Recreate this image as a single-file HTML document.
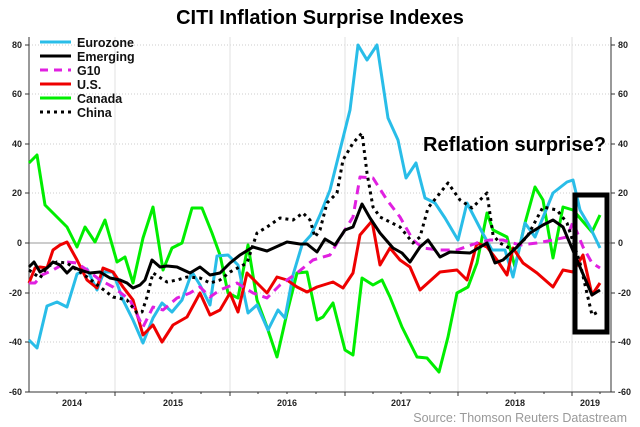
<!DOCTYPE html>
<html><head><meta charset="utf-8"><style>
html,body{margin:0;padding:0;background:#fff;}
svg{display:block;font-family:"Liberation Sans",Arial,sans-serif;}
</style></head><body>
<svg width="640" height="427" viewBox="0 0 640 427" xmlns="http://www.w3.org/2000/svg">
<rect width="640" height="427" fill="#fff"/>
<text x="320" y="24" font-size="20" font-weight="bold" text-anchor="middle">CITI Inflation Surprise Indexes</text>
<g stroke="#ccc" stroke-width="1" stroke-dasharray="1,2">
<line x1="29" y1="45" x2="611" y2="45"/><line x1="29" y1="94" x2="611" y2="94"/><line x1="29" y1="144" x2="611" y2="144"/><line x1="29" y1="193" x2="611" y2="193"/><line x1="29" y1="293" x2="611" y2="293"/><line x1="29" y1="342" x2="611" y2="342"/>
</g>
<g stroke="#e2e2e2" stroke-width="1">
<line x1="115" y1="37" x2="115" y2="392"/><line x1="230" y1="37" x2="230" y2="392"/><line x1="345" y1="37" x2="345" y2="392"/><line x1="458" y1="37" x2="458" y2="392"/><line x1="572" y1="37" x2="572" y2="392"/>
</g>
<line x1="29" y1="243" x2="611" y2="243" stroke="#999" stroke-width="1"/>
<g stroke="#333" stroke-width="1">
<line x1="29" y1="37" x2="29" y2="392"/><line x1="611" y1="37" x2="611" y2="392"/><line x1="29" y1="392" x2="611" y2="392"/>
<line x1="25" y1="45" x2="29" y2="45"/><line x1="25" y1="94" x2="29" y2="94"/><line x1="25" y1="144" x2="29" y2="144"/><line x1="25" y1="193" x2="29" y2="193"/><line x1="25" y1="243" x2="29" y2="243"/><line x1="25" y1="293" x2="29" y2="293"/><line x1="25" y1="342" x2="29" y2="342"/><line x1="25" y1="392" x2="29" y2="392"/>
<line x1="611" y1="45" x2="615" y2="45"/><line x1="611" y1="94" x2="615" y2="94"/><line x1="611" y1="144" x2="615" y2="144"/><line x1="611" y1="193" x2="615" y2="193"/><line x1="611" y1="243" x2="615" y2="243"/><line x1="611" y1="293" x2="615" y2="293"/><line x1="611" y1="342" x2="615" y2="342"/><line x1="611" y1="392" x2="615" y2="392"/>
<line x1="115" y1="392" x2="115" y2="396"/><line x1="230" y1="392" x2="230" y2="396"/><line x1="345" y1="392" x2="345" y2="396"/><line x1="458" y1="392" x2="458" y2="396"/><line x1="572" y1="392" x2="572" y2="396"/>
<line x1="57" y1="392" x2="57" y2="394"/><line x1="86" y1="392" x2="86" y2="394"/><line x1="144" y1="392" x2="144" y2="394"/><line x1="172" y1="392" x2="172" y2="394"/><line x1="201" y1="392" x2="201" y2="394"/><line x1="258" y1="392" x2="258" y2="394"/><line x1="287" y1="392" x2="287" y2="394"/><line x1="316" y1="392" x2="316" y2="394"/><line x1="373" y1="392" x2="373" y2="394"/><line x1="401" y1="392" x2="401" y2="394"/><line x1="430" y1="392" x2="430" y2="394"/><line x1="487" y1="392" x2="487" y2="394"/><line x1="515" y1="392" x2="515" y2="394"/><line x1="544" y1="392" x2="544" y2="394"/><line x1="600" y1="392" x2="600" y2="394"/>
</g>
<g font-size="9" font-weight="bold" fill="#222" text-anchor="end">
<text x="22" y="48">80</text><text x="22" y="97">60</text><text x="22" y="147">40</text><text x="22" y="196">20</text><text x="22" y="246">0</text><text x="22" y="296">-20</text><text x="22" y="345">-40</text><text x="22" y="395">-60</text>
</g>
<g font-size="9" font-weight="bold" fill="#222">
<text x="618" y="48">80</text><text x="618" y="97">60</text><text x="618" y="147">40</text><text x="618" y="196">20</text><text x="618" y="246">0</text><text x="618" y="296">-20</text><text x="618" y="345">-40</text><text x="618" y="395">-60</text>
</g>
<g font-size="9" font-weight="bold" fill="#222" text-anchor="middle">
<text x="72" y="406">2014</text><text x="173" y="406">2015</text><text x="287" y="406">2016</text><text x="401" y="406">2017</text><text x="515" y="406">2018</text><text x="590" y="406">2019</text>
</g>
<text x="627" y="422" font-size="12.5" fill="#999" text-anchor="end">Source: Thomson Reuters Datastream</text>
<g fill="none" stroke-width="3" stroke-linejoin="round">
<polyline stroke="#00ee00" points="29,163 37,155 45,205 67,227 77,247 85,227 95,242 105,220 117,262 125,257 133,283 143,238 153,207 163,270 172,248 182,243 192,208 202,208 212,233 220,255 228,293 238,298 248,245 257,300 267,327 277,357 287,313 297,273 307,272 317,320 323,317 333,303 345,350 353,355 362,278 373,285 382,280 390,297 402,327 417,357 427,358 439,372 448,337 457,293 468,287 477,263 487,213 493,230 507,237 515,267 525,223 535,187 543,200 553,258 563,207 573,210 592,232 600,215"/>
<polyline stroke="#29bde8" points="29,340 37,348 47,306 57,302 67,307 77,274 87,269 97,290 104,272 113,272 123,300 133,320 143,343 153,318 162,303 172,312 182,300 192,272 200,285 210,305 217,256 228,255 238,265 248,313 257,305 268,330 278,310 285,318 293,275 302,245 311,235 320,215 330,190 340,150 350,110 358,45 367,60 377,45 388,118 398,140 406,178 416,163 425,198 435,203 445,218 458,240 467,203 482,232 492,250 505,250 513,277 525,223 535,237 553,193 567,182 573,180 580,210 590,227 600,248"/>
<polyline stroke="#ee0000" points="29,283 35,268 40,267 47,268 53,250 60,245 67,242 77,260 87,280 97,288 103,268 113,272 123,287 133,300 143,335 153,325 162,342 173,325 187,317 200,293 210,315 220,310 230,293 238,312 247,273 257,283 267,293 277,277 287,280 297,287 307,292 317,287 333,282 343,288 353,273 360,235 372,221 380,265 390,248 400,260 410,267 420,290 440,272 457,270 467,280 477,243 487,247 497,260 507,275 513,248 523,263 537,273 553,287 563,270 573,272 583,255 592,295 600,283"/>
<polyline stroke="#e020e0" stroke-dasharray="9,6" points="29,283 35,283 42,275 53,270 67,262 77,263 87,270 100,280 113,287 130,300 143,327 153,307 163,310 177,298 190,293 200,287 210,297 220,290 237,283 253,293 267,298 280,285 297,273 313,260 330,255 343,233 353,217 360,177 373,178 387,200 400,217 413,240 423,248 440,250 457,250 477,243 490,240 503,240 520,245 537,243 553,240 567,237 573,222 583,247 592,263 600,268"/>
<polyline stroke="#000" points="29,267 34,262 40,272 47,268 53,262 60,265 67,273 73,267 80,270 90,273 100,272 110,278 120,280 127,283 133,288 140,285 145,280 152,260 160,267 167,266 177,267 190,273 200,267 210,275 220,273 230,263 240,255 253,247 267,251 287,242 300,244 307,244 317,252 325,239 335,245 345,230 353,227 362,204 370,218 380,233 393,248 402,253 410,262 420,247 428,240 440,257 450,252 470,253 487,243 495,263 503,260 517,247 530,233 543,225 553,220 563,227 577,260 592,295 600,290"/>
<polyline stroke="#000" stroke-dasharray="3,4" points="29,270 40,278 47,267 57,262 67,263 77,270 87,277 100,287 113,297 127,300 137,313 142,312 147,297 153,273 167,282 177,280 187,277 200,278 210,283 220,280 230,272 247,263 257,233 267,227 280,218 293,220 303,213 310,220 315,237 320,230 327,203 337,193 343,160 353,143 362,133 367,173 373,207 380,217 400,227 413,243 420,237 428,208 448,183 460,200 472,208 487,193 493,235 500,243 513,250 527,237 543,207 557,210 567,223 580,263 592,315 598,312"/>
</g>
<rect x="575" y="195" width="32" height="137" fill="none" stroke="#000" stroke-width="5"/>
<text x="423" y="151" font-size="20" font-weight="bold" fill="#000" textLength="183" lengthAdjust="spacingAndGlyphs">Reflation surprise?</text>
<g stroke-width="3">
<line x1="40" y1="42" x2="71" y2="42" stroke="#29bde8"/>
<line x1="40" y1="56" x2="71" y2="56" stroke="#000"/>
<line x1="40" y1="70" x2="71" y2="70" stroke="#e020e0" stroke-dasharray="8,6"/>
<line x1="40" y1="84" x2="71" y2="84" stroke="#ee0000"/>
<line x1="40" y1="98" x2="71" y2="98" stroke="#00ee00"/>
<line x1="40" y1="112" x2="71" y2="112" stroke="#000" stroke-dasharray="3,4"/>
</g>
<g font-size="12.5" font-weight="bold" fill="#111">
<text x="77" y="47">Eurozone</text><text x="77" y="61">Emerging</text><text x="77" y="75">G10</text><text x="77" y="89">U.S.</text><text x="77" y="103">Canada</text><text x="77" y="117">China</text>
</g>
</svg>
</body></html>
